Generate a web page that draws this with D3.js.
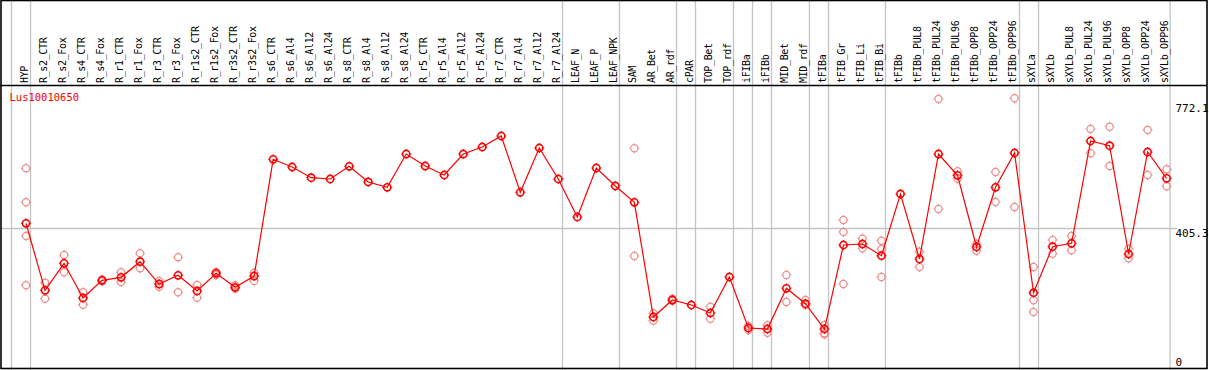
<!DOCTYPE html>
<html>
<head>
<meta charset="utf-8">
<script src="https://cdn.jsdelivr.net/npm/d3@7"></script>
<style>
  body { margin: 0; background: #fff; }
  svg { display: block; }
  text { font-family: "DejaVu Sans Mono", "Liberation Mono", monospace; }
</style>
</head>
<body>
<div id="chart"></div>
<script>
const geneName = "Lus10010650";

const samples = [
  "HYP", "R_s2_CTR", "R_s2_Fox", "R_s4_CTR", "R_s4_Fox", "R_r1_CTR", "R_r1_Fox",
  "R_r3_CTR", "R_r3_Fox", "R_r1s2_CTR", "R_r1s2_Fox", "R_r3s2_CTR", "R_r3s2_Fox",
  "R_s6_CTR", "R_s6_Al4", "R_s6_Al12", "R_s6_Al24", "R_s8_CTR", "R_s8_Al4",
  "R_s8_Al12", "R_s8_Al24", "R_r5_CTR", "R_r5_Al4", "R_r5_Al12", "R_r5_Al24",
  "R_r7_CTR", "R_r7_Al4", "R_r7_Al12", "R_r7_Al24", "LEAF_N", "LEAF_P", "LEAF_NPK",
  "SAM", "AR_Bet", "AR_rdf", "cPAR", "TOP_Bet", "TOP_rdf", "iFIBa", "iFIBb",
  "MID_Bet", "MID_rdf", "tFIBa", "tFIB_Gr", "tFIB_Li", "tFIB_Bi", "tFIBb",
  "tFIBb_PUL8", "tFIBb_PUL24", "tFIBb_PUL96", "tFIBb_OPP8", "tFIBb_OPP24", "tFIBb_OPP96",
  "sXYLa", "sXYLb", "sXYLb_PUL8", "sXYLb_PUL24", "sXYLb_PUL96", "sXYLb_OPP8",
  "sXYLb_OPP24", "sXYLb_OPP96"
];

// first sample of each group (a grey separator is drawn before it)
const groupStarts = [
  "HYP", "R_s2_CTR", "LEAF_N", "SAM", "cPAR", "TOP_Bet", "iFIBa", "iFIBb",
  "MID_Bet", "tFIBa", "tFIB_Gr", "tFIBb", "sXYLa", "sXYLb"
];

const meanValues = [
  420.3, 224.3, 303.3, 201.8, 253.6, 262.3, 308.0, 242.7, 268.2, 222.3, 274.0, 233.1, 266.1,
  607.4, 584.9, 553.6, 549.8, 587.0, 541.1, 525.5, 622.9, 587.8, 561.5, 622.9, 643.4,
  675.6, 510.9, 640.5, 549.8, 438.7, 582.0, 529.4,
  481.7, 146.2, 195.9, 181.3, 157.9, 263.2, 114.1, 111.1, 230.2, 185.1, 111.1,
  356.8, 359.7, 325.5, 506.0, 315.9, 622.9, 560.6, 351.0, 525.5, 625.9,
  217.3, 351.8, 361.8, 661.0, 647.2, 330.5, 628.8, 551.9
];

// individual replicates, one list per sample (empty where none shown)
const replicateValues = [
  [581.1, 481.7, 383.1, 238.9], [246.5, 199.8], [327.6, 277.0], [218.5, 182.2],
  [251.0, 256.0], [277.0, 248.6], [332.5, 288.7], [251.5, 234.8], [320.8, 218.5],
  [239.8, 202.7], [277.8, 269.1], [238.9, 229.0], [275.8, 251.5],
  [], [], [], [], [], [], [], [], [], [], [], [], [], [], [], [], [], [], [],
  [639.6, 324.6], [157.1, 135.4], [199.8, 193.9], [], [176.4, 141.3], [],
  [120.0, 108.0], [122.0, 100.3], [269.1, 190.1], [195.9, 181.3], [122.8, 98.6, 95.6],
  [429.9, 394.8, 242.7], [375.2, 347.1], [369.4, 345.1, 263.2], [],
  [337.2, 292.5], [783.8, 462.1], [572.3, 550.7], [359.7, 340.1], [570.3, 482.6],
  [785.8, 467.9],
  [292.5, 195.1, 160.9], [371.4, 331.4], [383.1, 341.3], [696.1, 625.0],
  [702.8, 587.8], [345.1, 317.9], [693.1, 561.5], [578.2, 528.5]
];

const axisTicks = [0, 405.3, 772.1];
const yMax = 772.1;

const W = 1209, H = 370;
const headerH = 85.5;
const plotLeft = 11, plotRight = 1170.6;

const COLORS = {
  MEAN: "#ff0000",
  REP: "#f08c8c",
  GRID: "#c4c4c4",
  BORDER: "#000"
};

const svg = d3.select("#chart").append("svg")
  .attr("width", W)
  .attr("height", H);

svg.append("rect").attr("width", W).attr("height", H).attr("fill", "#fff");

const x = d3.scaleBand()
  .domain(samples)
  .range([plotLeft, plotRight])
  .padding(0);
const bw = x.bandwidth();
const cx = d => x(d) + bw * 0.79;

const y = d3.scaleLinear()
  .domain([0, yMax])
  .range([367, 103]);

// grey separators between sample groups
svg.append("g")
  .selectAll("line")
  .data(groupStarts.concat(["__end"]))
  .join("line")
  .attr("x1", d => d === "__end" ? plotRight - 0.5 : Math.round(x(d)) + 0.5)
  .attr("x2", d => d === "__end" ? plotRight - 0.5 : Math.round(x(d)) + 0.5)
  .attr("y1", 0)
  .attr("y2", H)
  .attr("stroke", COLORS.GRID)
  .attr("stroke-width", 1.3);

// mid reference line
svg.append("line")
  .attr("x1", 1).attr("x2", 1177)
  .attr("y1", Math.round(y(axisTicks[1])) + 0.5)
  .attr("y2", Math.round(y(axisTicks[1])) + 0.5)
  .attr("stroke", COLORS.GRID)
  .attr("stroke-width", 1.3);

// header labels
svg.append("g")
  .selectAll("text")
  .data(samples)
  .join("text")
  .attr("transform", d => `translate(${x(d) + 16.8},83) rotate(-90)`)
  .attr("font-size", 10)
  .attr("letter-spacing", -0.35)
  .attr("fill", "#000")
  .text(d => d);

// frame and header rule
svg.append("rect")
  .attr("x", 1).attr("y", 0.5)
  .attr("width", 1206).attr("height", 368)
  .attr("fill", "none")
  .attr("stroke", COLORS.BORDER)
  .attr("stroke-width", 1.6);
svg.append("line")
  .attr("x1", 0).attr("x2", 1207)
  .attr("y1", headerH).attr("y2", headerH)
  .attr("stroke", COLORS.BORDER)
  .attr("stroke-width", 1.3);

// right-hand value labels
const axisG = svg.append("g");
axisG.selectAll("text")
  .data(axisTicks)
  .join("text")
  .attr("x", 1175.5)
  .attr("y", d => d === 0 ? y(d) - 1 : y(d) + 8.5)
  .attr("font-size", 11)
  .attr("fill", "#000")
  .text(d => d === 0 ? "0" : d3.format(".1f")(d));

svg.append("text")
  .attr("x", 9.5)
  .attr("y", 101)
  .attr("font-size", 10.5)
  .attr("fill", COLORS.MEAN)
  .text(geneName);

function drawMarker(g, px, py, color, sw) {
  const r = 3.6;
  g.append("circle")
    .attr("cx", px).attr("cy", py).attr("r", r)
    .attr("fill", "none")
    .attr("stroke", color)
    .attr("stroke-width", sw);
  const t = 1.4;
  [[0, -1], [0, 1], [-1, 0], [1, 0]].forEach(([dx, dy]) => {
    g.append("line")
      .attr("x1", px + dx * r).attr("y1", py + dy * r)
      .attr("x2", px + dx * (r + t)).attr("y2", py + dy * (r + t))
      .attr("stroke", color)
      .attr("stroke-width", 1);
  });
}

// replicate points
const repG = svg.append("g");
samples.forEach((s, i) => {
  replicateValues[i].forEach(v => drawMarker(repG, cx(s), y(v), COLORS.REP, 1.2));
});

// mean profile
const line = d3.line()
  .x((d, i) => cx(samples[i]))
  .y(d => y(d));

svg.append("path")
  .datum(meanValues)
  .attr("d", line)
  .attr("fill", "none")
  .attr("stroke", COLORS.MEAN)
  .attr("stroke-width", 1.2);

const meanG = svg.append("g");
samples.forEach((s, i) => drawMarker(meanG, cx(s), y(meanValues[i]), COLORS.MEAN, 1.6));
</script>
</body>
</html>
